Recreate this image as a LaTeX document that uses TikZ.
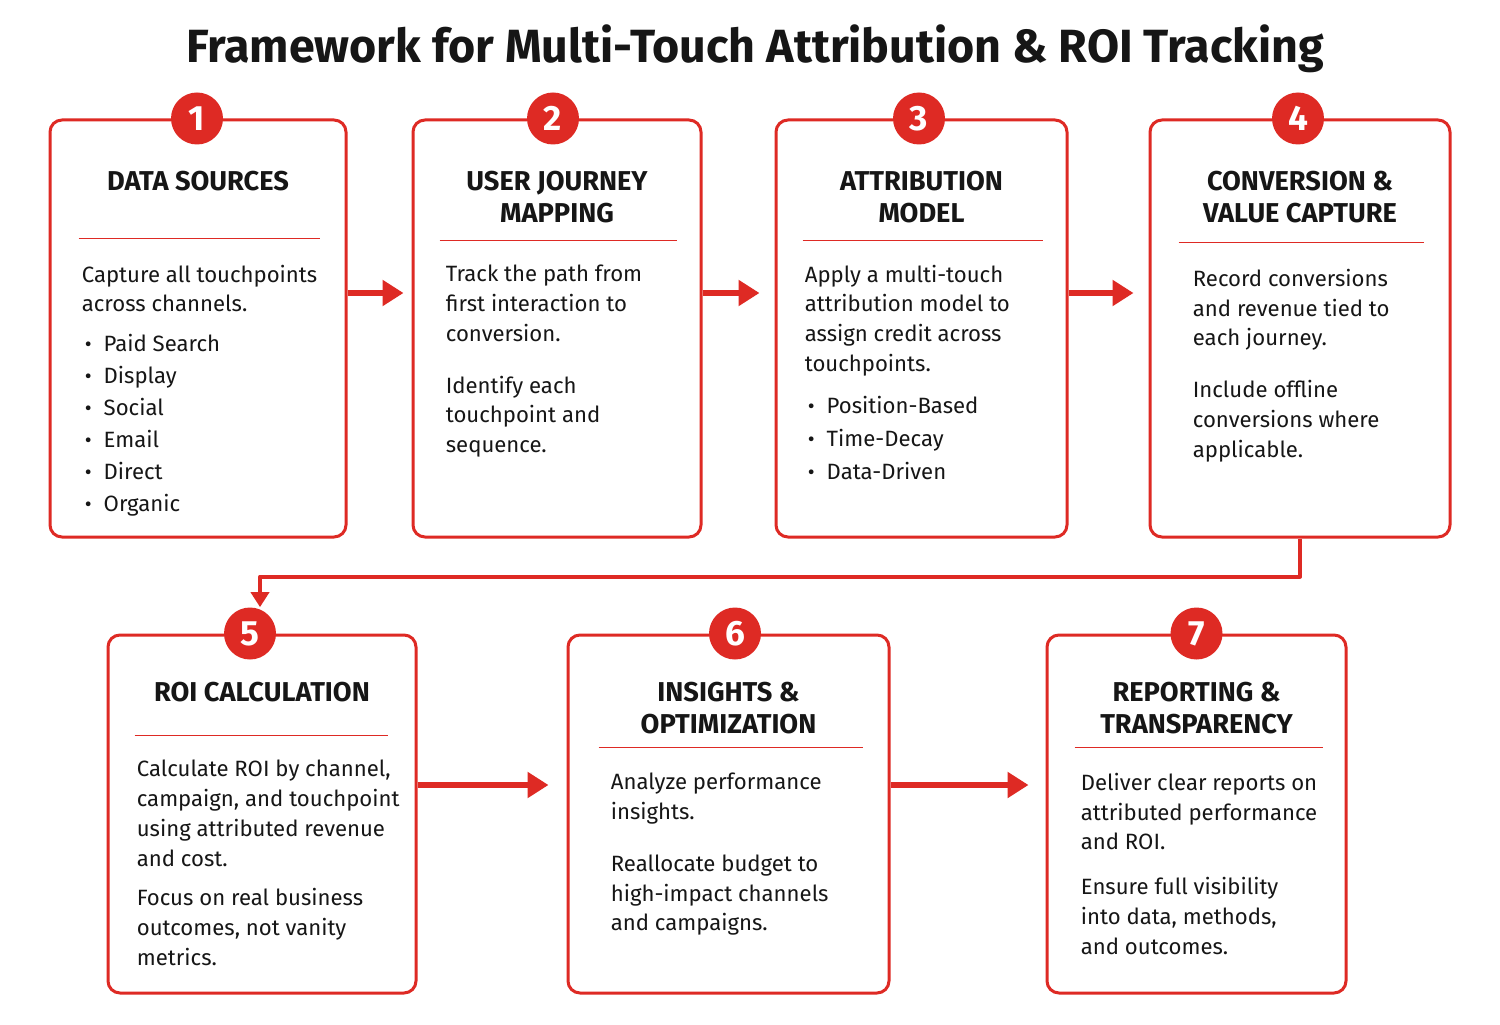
\documentclass[tikz,border=0pt]{standalone}
\usepackage{fontspec}
\setmainfont{Fira Sans}
\usetikzlibrary{arrows.meta,positioning,calc}
\definecolor{accent}{HTML}{DE2A24}
\definecolor{ink}{HTML}{161616}
\tikzset{
  >=Triangle,
  every picture/.style={line cap=butt, line join=round},
  every node/.style={text=ink},
  stage/.style={draw=accent, line width=0.06cm, rounded corners=0.24cm, fill=white},
  num/.style={circle, fill=accent, minimum size=1.04cm, inner sep=0pt,
    text=white, font=\fontsize{20}{20}\selectfont\bfseries},
  head/.style={anchor=north, align=center, inner sep=0pt,
    font=\fontsize{15.5}{18.5}\selectfont\bfseries},
  body/.style={anchor=north west, align=left, inner sep=0pt,
    font=\fontsize{12.6}{17}\selectfont},
  rule/.style={draw=accent, line width=0.025cm},
  flow/.style={-{Triangle[length=0.42cm,width=0.5cm]}, draw=accent, line width=0.13cm},
  link/.style={-{Triangle[length=0.3cm,width=0.36cm]}, draw=accent, line width=0.08cm}
}
\newcommand{\bitem}[1]{\hspace*{0.06cm}{\large\textbullet}\hspace{0.24cm}#1}
\begin{document}
\begin{tikzpicture}
  \useasboundingbox[fill=white] (0,0) rectangle (30,20.48);
  \node[font=\fontsize{26.5}{26.5}\selectfont\bfseries] (title) at (15.1,19.5)
    {Framework for Multi-Touch Attribution \& ROI Tracking};

  % top row
  \node[stage, minimum width=5.92cm, minimum height=8.34cm] (b1) at (3.96,13.91) {};
  \node[stage, minimum width=5.76cm, minimum height=8.34cm] (b2) at (11.14,13.91) {};
  \node[stage, minimum width=5.82cm, minimum height=8.34cm] (b3) at (18.43,13.91) {};
  \node[stage, minimum width=6.00cm, minimum height=8.34cm] (b4) at (26.00,13.91) {};
  % bottom row
  \node[stage, minimum width=6.16cm, minimum height=7.16cm] (b5) at (5.24,4.20) {};
  \node[stage, minimum width=6.42cm, minimum height=7.16cm] (b6) at (14.57,4.20) {};
  \node[stage, minimum width=5.98cm, minimum height=7.16cm] (b7) at (23.93,4.20) {};

  % step 1
  \node[head] (h1) at ([yshift=-1.04cm]b1.north) {DATA SOURCES};
  \draw[rule] ([xshift=0.6cm,yshift=-2.4cm]b1.north west) -- ([xshift=-0.55cm,yshift=-2.4cm]b1.north east);
  \node[body] (t1) at ([xshift=0.66cm,yshift=-2.92cm]b1.north west)
    {Capture all touchpoints\\across channels.\\[0.2cm]
     \bitem{Paid Search}\\[0.04cm]\bitem{Display}\\[0.04cm]\bitem{Social}\\[0.04cm]
     \bitem{Email}\\[0.04cm]\bitem{Direct}\\[0.04cm]\bitem{Organic}};

  % step 2
  \node[head] (h2) at ([yshift=-1.04cm]b2.north) {USER JOURNEY\\MAPPING};
  \draw[rule] ([xshift=0.56cm,yshift=-2.44cm]b2.north west) -- ([xshift=-0.52cm,yshift=-2.44cm]b2.north east);
  \node[body] (t2) at ([xshift=0.68cm,yshift=-2.92cm]b2.north west)
    {Track the path from\\first interaction to\\conversion.\\[0.44cm]
     Identify each\\touchpoint and\\sequence.};

  % step 3
  \node[head] (h3) at ([yshift=-1.04cm]b3.north) {ATTRIBUTION\\MODEL};
  \draw[rule] ([xshift=0.56cm,yshift=-2.44cm]b3.north west) -- ([xshift=-0.52cm,yshift=-2.44cm]b3.north east);
  \node[body] (t3) at ([xshift=0.6cm,yshift=-2.92cm]b3.north west)
    {Apply a multi-touch\\attribution model to\\assign credit across\\touchpoints.\\[0.24cm]
     \bitem{Position-Based}\\[0.06cm]\bitem{Time-Decay}\\[0.06cm]\bitem{Data-Driven}};

  % step 4
  \node[head] (h4) at ([yshift=-1.04cm]b4.north) {CONVERSION \&\\VALUE CAPTURE};
  \draw[rule] ([xshift=0.6cm,yshift=-2.48cm]b4.north west) -- ([xshift=-0.55cm,yshift=-2.48cm]b4.north east);
  \node[body] (t4) at ([xshift=0.88cm,yshift=-3.0cm]b4.north west)
    {Record conversions\\and revenue tied to\\each journey.\\[0.44cm]
     Include offline\\conversions where\\applicable.};

  % step 5
  \node[head] (h5) at ([yshift=-0.96cm]b5.north) {ROI CALCULATION};
  \draw[rule] ([xshift=0.56cm,yshift=-2.04cm]b5.north west) -- ([xshift=-0.6cm,yshift=-2.04cm]b5.north east);
  \node[body] (t5) at ([xshift=0.6cm,yshift=-2.52cm]b5.north west)
    {Calculate ROI by channel,\\campaign, and touchpoint\\using attributed revenue\\and cost.\\[0.2cm]
     Focus on real business\\outcomes, not vanity\\metrics.};

  % step 6
  \node[head] (h6) at ([yshift=-0.96cm]b6.north) {INSIGHTS \&\\OPTIMIZATION};
  \draw[rule] ([xshift=0.64cm,yshift=-2.28cm]b6.north west) -- ([xshift=-0.56cm,yshift=-2.28cm]b6.north east);
  \node[body] (t6) at ([xshift=0.88cm,yshift=-2.78cm]b6.north west)
    {Analyze performance\\insights.\\[0.44cm]
     Reallocate budget to\\high-impact channels\\and campaigns.};

  % step 7
  \node[head] (h7) at ([yshift=-0.96cm]b7.north) {REPORTING \&\\TRANSPARENCY};
  \draw[rule] ([xshift=0.58cm,yshift=-2.28cm]b7.north west) -- ([xshift=-0.5cm,yshift=-2.28cm]b7.north east);
  \node[body] (t7) at ([xshift=0.7cm,yshift=-2.78cm]b7.north west)
    {Deliver clear reports on\\attributed performance\\and ROI.\\[0.3cm]
     Ensure full visibility\\into data, methods,\\and outcomes.};

  % numbers
  \node[num] (n1) at ([xshift=-0.02cm]b1.north) {1};
  \node[num] (n2) at ([xshift=-0.08cm]b2.north) {2};
  \node[num] (n3) at ([xshift=-0.05cm]b3.north) {3};
  \node[num] (n4) at ([xshift=-0.04cm]b4.north) {4};
  \node[num] (n5) at ([xshift=-0.24cm]b5.north) {5};
  \node[num] (n6) at ([xshift=0.13cm]b6.north) {6};
  \node[num] (n7) at (b7.north) {7};

  % connectors
  \draw[flow, shorten >=0.16cm] ([yshift=0.71cm]b1.east) -- ([yshift=0.71cm]b2.west);
  \draw[flow, shorten >=0.3cm] ([yshift=0.71cm]b2.east) -- ([yshift=0.71cm]b3.west);
  \draw[flow, shorten >=0.3cm] ([yshift=0.71cm]b3.east) -- ([yshift=0.71cm]b4.west);
  \draw[link] (b4.south) -- ++(0,-0.76) -| ([xshift=0.2cm]n5.north);
  \draw[flow, shorten >=0.36cm] ([yshift=0.58cm]b5.east) -- ([yshift=0.58cm]b6.west);
  \draw[flow, shorten >=0.34cm] ([yshift=0.58cm]b6.east) -- ([yshift=0.58cm]b7.west);
\end{tikzpicture}
\end{document}
